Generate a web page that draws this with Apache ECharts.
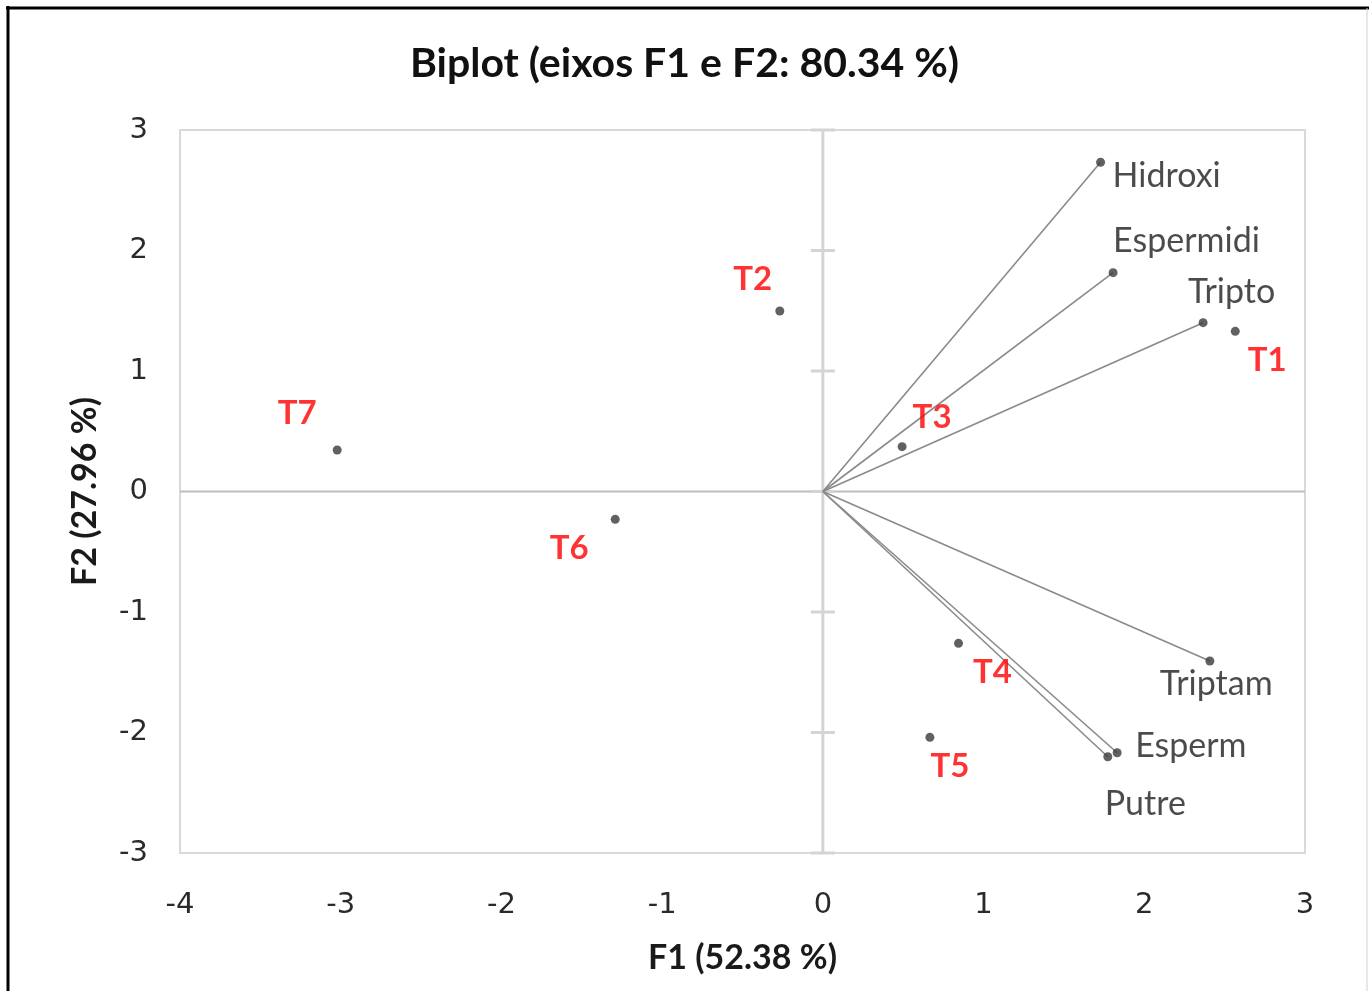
<!DOCTYPE html>
<html>
<head>
<meta charset="utf-8">
<title>Biplot (eixos F1 e F2: 80.34 %)</title>
<script src="https://cdn.jsdelivr.net/npm/echarts@6/dist/echarts.min.js"></script>
<style>
  html, body { margin: 0; padding: 0; background: #ffffff; }
  #chart { width: 1369px; height: 991px; }
</style>
</head>
<body>
<div id="chart"></div>
<script>
// Observations (scores) on the first two factors
const scoreNames = ['T1', 'T2', 'T3', 'T4', 'T5', 'T6', 'T7'];
const scoreF1 = [2.566, -0.268, 0.493, 0.844, 0.666, -1.292, -3.022];
const scoreF2 = [1.329, 1.498, 0.372, -1.260, -2.040, -0.231, 0.344];

// Variables (loadings) drawn as vectors from the origin
const varNames = ['Hidroxi', 'Espermidi', 'Tripto', 'Triptam', 'Esperm', 'Putre'];
const varF1 = [1.728, 1.806, 2.366, 2.408, 1.831, 1.773];
const varF2 = [2.732, 1.816, 1.401, -1.407, -2.168, -2.201];

// Axis ticks
const xTicks = [-4, -3, -2, -1, 0, 1, 2, 3];
const yTicks = [-3, -2, -1, 0, 1, 2, 3];

// Label placement (pixel offsets from each point)
const scoreLabelOffsets = [[32, 29], [-27, -32], [30, -29], [34, 29], [20, 29], [-46, 29], [-40, -37]];
const varLabelOffsets = [[12, 14], [0, -32], [-15, -31], [-50, 23], [18, -7], [-3, 47]];

const textFont = 'Lato, "Open Sans", sans-serif';
const tickFont = '"DejaVu Sans", Verdana, sans-serif';

const chart = echarts.init(document.getElementById('chart'), null, { renderer: 'canvas' });

const scoreData = scoreNames.map((n, i) => ({
  name: n,
  value: [scoreF1[i], scoreF2[i]],
  label: { offset: scoreLabelOffsets[i] }
}));

const varData = varNames.map((n, i) => ({
  name: n,
  value: [varF1[i], varF2[i]],
  label: { offset: varLabelOffsets[i] }
}));

const option = {
  animation: false,
  backgroundColor: '#ffffff',
  title: {
    text: 'Biplot (eixos F1 e F2: 80.34 %)',
    left: 'center',
    top: 38,
    textStyle: { fontFamily: textFont, fontWeight: 'bold', fontSize: 41, color: '#111111' }
  },
  graphic: [
    { type: 'line', shape: { x1: 8, y1: 6, x2: 8, y2: 991 }, style: { stroke: '#000000', lineWidth: 3 } },
    { type: 'line', shape: { x1: 6, y1: 8, x2: 1369, y2: 8 }, style: { stroke: '#000000', lineWidth: 3 } },
    { type: 'line', shape: { x1: 1367, y1: 8, x2: 1367, y2: 991 }, style: { stroke: '#d0d0d0', lineWidth: 1 } }
  ],
  grid: {
    left: 180, right: 64, top: 130, bottom: 138,
    show: true, borderColor: '#d9d9d9', borderWidth: 2, backgroundColor: 'transparent'
  },
  xAxis: {
    type: 'value', min: -4, max: 3, interval: 1,
    name: 'F1 (52.38 %)', nameLocation: 'middle', nameGap: 88,
    nameTextStyle: { fontFamily: textFont, fontWeight: 'bold', fontSize: 34, color: '#1a1a1a' },
    axisLine: { show: false }, axisTick: { show: false }, splitLine: { show: false },
    axisLabel: { margin: 38, fontFamily: tickFont, fontSize: 29, color: '#2a2a2a',
      formatter: v => xTicks.includes(v) ? String(v) : '' }
  },
  yAxis: {
    type: 'value', min: -3, max: 3, interval: 1,
    name: 'F2 (27.96 %)', nameLocation: 'middle', nameGap: 78,
    nameTextStyle: { fontFamily: textFont, fontWeight: 'bold', fontSize: 34, color: '#1a1a1a' },
    axisLine: { show: false }, axisTick: { show: false }, splitLine: { show: false },
    axisLabel: { margin: 32, fontFamily: tickFont, fontSize: 29, color: '#2a2a2a',
      formatter: v => yTicks.includes(v) ? String(v) : '' }
  },
  series: [
    {
      // axes through the origin, with cross ticks on the vertical one
      type: 'custom',
      silent: true,
      z: 1,
      data: yTicks.map(t => [0, t]),
      renderItem: function (params, api) {
        const children = [];
        const c = api.coord([0, api.value(1)]);
        if (params.dataIndex === 0) {
          const top = api.coord([0, 3]);
          const bot = api.coord([0, -3]);
          const l = api.coord([-4, 0]);
          const r = api.coord([3, 0]);
          children.push({ type: 'line', shape: { x1: top[0], y1: top[1], x2: bot[0], y2: bot[1] },
            style: { stroke: '#d4d4d4', lineWidth: 3 } });
          children.push({ type: 'line', shape: { x1: l[0], y1: l[1], x2: r[0], y2: r[1] },
            style: { stroke: '#bdbdbd', lineWidth: 2 } });
        }
        children.push({ type: 'line', shape: { x1: c[0] - 12, y1: c[1], x2: c[0] + 12, y2: c[1] },
          style: { stroke: '#d4d4d4', lineWidth: 3 } });
        return { type: 'group', children: children };
      }
    },
    {
      // loading vectors
      type: 'custom',
      silent: true,
      z: 2,
      data: varNames.map((n, i) => [varF1[i], varF2[i]]),
      renderItem: function (params, api) {
        const o = api.coord([0, 0]);
        const p = api.coord([api.value(0), api.value(1)]);
        return { type: 'line', shape: { x1: o[0], y1: o[1], x2: p[0], y2: p[1] },
          style: { stroke: '#8a8a8a', lineWidth: 1.6 } };
      }
    },
    {
      name: 'Variáveis',
      type: 'scatter',
      z: 3,
      symbol: 'circle',
      symbolSize: 9,
      itemStyle: { color: '#3a3a3a' },
      data: varData,
      label: {
        show: true,
        position: 'inside',
        align: 'left',
        verticalAlign: 'middle',
        formatter: '{b}',
        fontFamily: textFont,
        fontSize: 34,
        color: '#1e1e1e'
      }
    },
    {
      name: 'Observações',
      type: 'scatter',
      z: 3,
      symbol: 'circle',
      symbolSize: 9,
      itemStyle: { color: '#3a3a3a' },
      data: scoreData,
      label: {
        show: true,
        position: 'inside',
        align: 'center',
        verticalAlign: 'middle',
        formatter: '{b}',
        fontFamily: textFont,
        fontWeight: 'bold',
        fontSize: 33,
        color: '#ff0000'
      }
    }
  ]
};

chart.setOption(option);
</script>
</body>
</html>
